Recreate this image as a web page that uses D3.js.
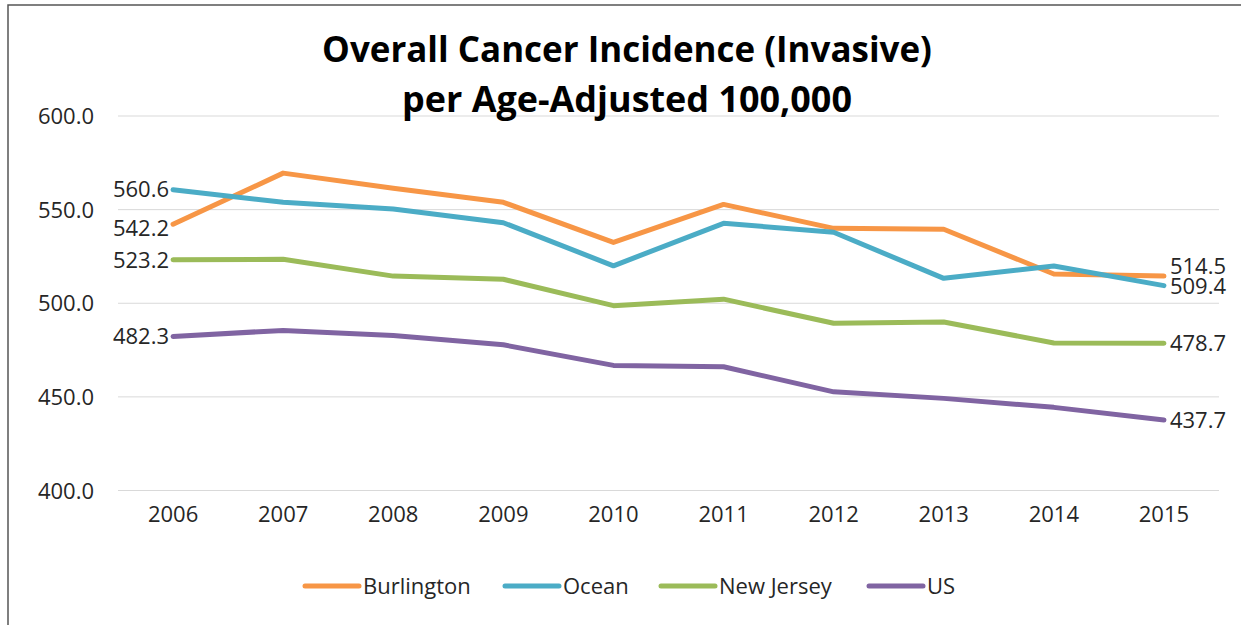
<!DOCTYPE html>
<html>
<head>
<meta charset="utf-8">
<script src="https://cdn.jsdelivr.net/npm/d3@7"></script>
<style>
  body { margin: 0; background: #fff; }
  text { font-family: 'Open Sans', sans-serif; fill: #262626; }
</style>
</head>
<body>
<svg id="canvas" width="1241" height="625"></svg>
<script>
let years = ['2006', '2007', '2008', '2009', '2010', '2011', '2012', '2013', '2014', '2015']
let seriesNames = ['Burlington', 'Ocean', 'New Jersey', 'US']
let burlington = [542.2, 569.5, 561.4, 553.9, 532.5, 552.8, 540.0, 539.5, 515.6, 514.5]
let ocean = [560.6, 553.9, 550.3, 543.0, 520.0, 542.7, 537.9, 513.3, 519.9, 509.4]
let newJersey = [523.2, 523.5, 514.5, 512.8, 498.7, 502.2, 489.3, 490.0, 478.8, 478.7]
let us = [482.3, 485.5, 482.8, 477.8, 466.8, 466.1, 452.7, 449.2, 444.4, 437.7]
let yTicks = [400, 450, 500, 550, 600]
let titleLines = ['Overall Cancer Incidence (Invasive)', 'per Age-Adjusted 100,000']

let colors = ['#F79646', '#4BACC6', '#9BBB59', '#8064A2']
let seriesValues = [burlington, ocean, newJersey, us]

const canvas = d3.select('#canvas')

// chart border (right and bottom edges fall outside the picture)
canvas.append('rect')
  .attr('x', 8).attr('y', 5)
  .attr('width', 1260).attr('height', 640)
  .attr('fill', 'none')
  .attr('stroke', '#555')
  .attr('stroke-width', 1.5)

let xScale = d3.scaleBand().domain(years).range([118, 1219])
let yScale = d3.scaleLinear().domain([400, 600]).range([490.5, 116])
let xc = d => xScale(d) + xScale.bandwidth() / 2

// gridlines
canvas.selectAll('.grid')
  .data(yTicks)
  .enter()
  .append('line')
  .attr('x1', 118).attr('x2', 1219)
  .attr('y1', d => yScale(d)).attr('y2', d => yScale(d))
  .attr('stroke', '#d9d9d9')
  .attr('stroke-width', 1)

// y axis labels
let yAxis = d3.axisLeft(yScale).tickValues(yTicks).tickFormat(d3.format('.1f')).tickSize(0).tickPadding(0)
let yg = canvas.append('g').attr('transform', 'translate(94,0)').call(yAxis)
yg.select('.domain').remove()
yg.selectAll('text').style('font-size', '22px').attr('fill', '#262626').attr('dy', '0.35em')

// x axis labels
let xAxis = d3.axisBottom(xScale).tickSize(0).tickPadding(0)
let xg = canvas.append('g').attr('transform', 'translate(0,514)').call(xAxis)
xg.select('.domain').remove()
xg.selectAll('text').style('font-size', '22px').attr('fill', '#262626').attr('dy', '0.35em')

// lines
let line = d3.line()
  .x((d, i) => xc(years[i]))
  .y(d => yScale(d))

seriesValues.forEach((vals, k) => {
  canvas.append('path')
    .datum(vals)
    .attr('d', line)
    .attr('fill', 'none')
    .attr('stroke', colors[k])
    .attr('stroke-width', 5)
    .attr('stroke-linejoin', 'round')
    .attr('stroke-linecap', 'round')
})

// end labels
let leftNudge = [4, 0, 0, 0]
let rightNudge = [-10, 1, 0, 0]
let fmt = d3.format('.1f')
seriesValues.forEach((vals, k) => {
  canvas.append('text')
    .attr('x', xc(years[0]) - 4)
    .attr('y', yScale(vals[0]) + leftNudge[k])
    .attr('dy', '0.35em')
    .attr('text-anchor', 'end')
    .style('font-size', '22px')
    .text(fmt(vals[0]))
  canvas.append('text')
    .attr('x', xc(years[years.length - 1]) + 6)
    .attr('y', yScale(vals[vals.length - 1]) + rightNudge[k])
    .attr('dy', '0.35em')
    .style('font-size', '22px')
    .text(fmt(vals[vals.length - 1]))
})

// title, scaled to the width seen in the picture
let titleWidths = [610, 450]
let titleY = [62, 112]
titleLines.forEach((t, i) => {
  let tt = canvas.append('text')
    .attr('x', 627).attr('y', titleY[i])
    .attr('text-anchor', 'middle')
    .style('font-weight', 'bold')
    .style('font-size', '30px')
    .style('fill', '#000')
    .text(t)
  let w = tt.node().getComputedTextLength()
  tt.style('font-size', (30 * titleWidths[i] / w) + 'px')
})

// legend
let legendX = [305, 505, 661, 869]
let legend = canvas.selectAll('.legend')
  .data(seriesNames)
  .enter()
  .append('g')
  .attr('transform', (d, i) => 'translate(' + legendX[i] + ',586)')
legend.append('line')
  .attr('x1', 0).attr('x2', 54)
  .attr('stroke', (d, i) => colors[i])
  .attr('stroke-width', 5)
  .attr('stroke-linecap', 'round')
legend.append('text')
  .attr('x', 58)
  .attr('dy', '0.35em')
  .style('font-size', '22px')
  .text(d => d)
</script>
</body>
</html>
